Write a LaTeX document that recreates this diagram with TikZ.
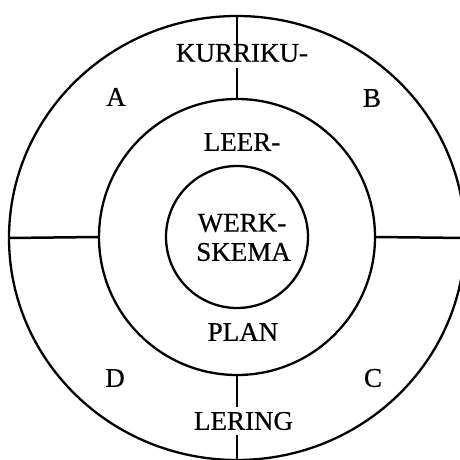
\documentclass[tikz,border=0pt]{standalone}
\usepackage{fontspec}
\setmainfont{Liberation Serif}
\newfontfamily\lblfont[FakeBold=0.6]{Liberation Serif}
\usetikzlibrary{shapes.geometric}
\begin{document}
\begin{tikzpicture}[x=1pt,y=1pt,
  ring/.style={draw, line width=2.3pt, inner sep=0pt, outer sep=0pt},
  sep/.style={line width=2.5pt},
  lbl/.style={inner sep=0pt, font=\lblfont\fontsize{27}{32}\selectfont},
  gaplbl/.style={inner sep=5pt, font=\lblfont\fontsize{27}{32}\selectfont}]
\useasboundingbox (0,0) rectangle (460,460);
\coordinate (c) at (237,223);
\node[ring, ellipse, minimum width=456pt, minimum height=444pt] (outer) at (237,222) {};
\node[ring, circle, minimum size=276pt] (mid) at (c) {};
\node[ring, circle, minimum size=142pt] (inner) at (c) {};
% labels
\node[lbl] (kur) at (242,407) {KURRIKU-};
\node[lbl] (A) at (116,363) {A};
\node[lbl] (B) at (372,362) {B};
\node[lbl] (leer) at (242,318) {LEER-};
\node[lbl] (werk) at (242,237) {WERK-};
\node[lbl] (skema) at (243.5,208) {SKEMA};
\node[lbl] (plan) at (243,128) {PLAN};
\node[lbl] (D) at (115,82) {D};
\node[lbl] (C) at (373,82) {C};
\node[gaplbl] (lering) at (243.5,39) {LERING};
% separators
\coordinate (kgapA) at (237,398);
\coordinate (kgapB) at (237,392);
\draw[sep] (outer.north) -- (kgapA);
\draw[sep] (kgapB) -- (mid.north);
\draw[sep] (mid.south) -- (lering.north -| mid.south);
\draw[sep] (lering.south -| outer.south) -- (outer.south);
\draw[sep] (outer.west) -- (mid.west);
\draw[sep] (mid.east) -- (outer.east);
\end{tikzpicture}
\end{document}
